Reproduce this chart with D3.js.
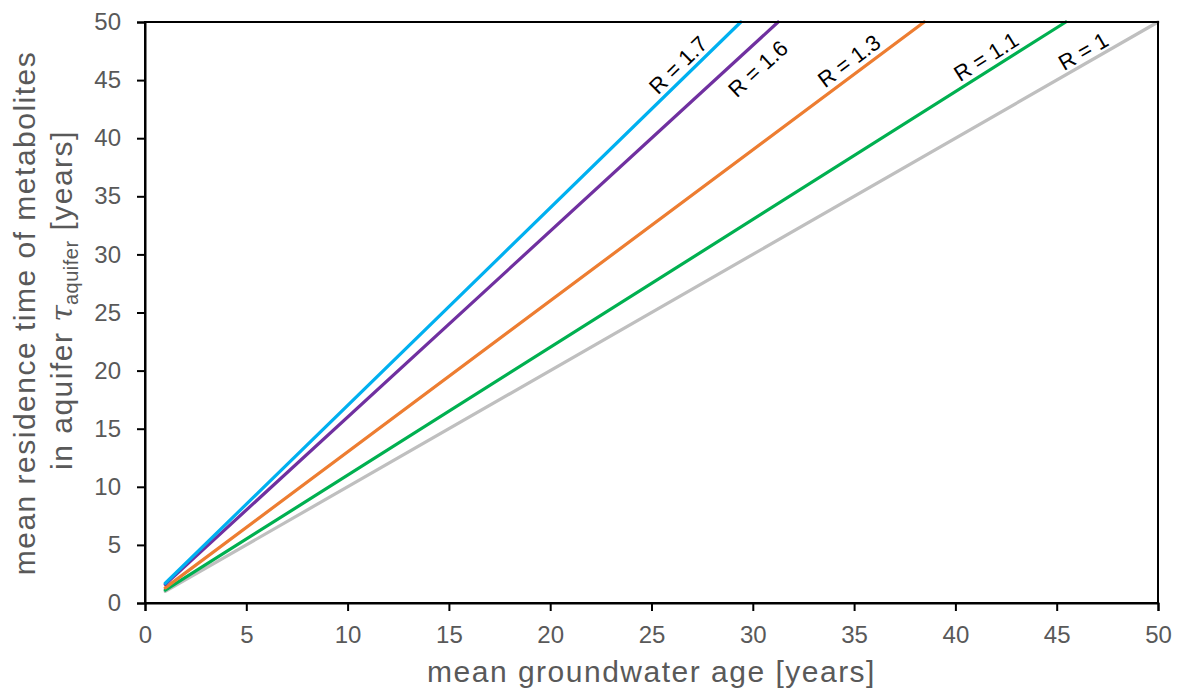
<!DOCTYPE html>
<html>
<head>
<meta charset="utf-8">
<script src="https://cdn.jsdelivr.net/npm/d3@7"></script>
<style>
  html, body { margin: 0; padding: 0; background: #fff; }
  svg { display: block; font-family: "Liberation Sans", Arial, sans-serif; }
</style>
</head>
<body>
<svg id="chart" width="1181" height="696"></svg>
<script>
// Retardation factors and the straight lines they produce (tau = R * age)
const retardation = [1, 1.1, 1.3, 1.6, 1.7];
const seriesLabels = ["R = 1", "R = 1.1", "R = 1.3", "R = 1.6", "R = 1.7"];
const ageStart = [1, 1, 1, 1, 1];
const tauStart = [1, 1.1, 1.3, 1.6, 1.7];
const ageEnd = [50, 45.45, 38.46, 31.25, 29.41];
const tauEnd = [50, 50, 50, 50, 50];
const xTicks = [0, 5, 10, 15, 20, 25, 30, 35, 40, 45, 50];
const yTicks = [0, 5, 10, 15, 20, 25, 30, 35, 40, 45, 50];

const colors = ["#BFBFBF", "#00B050", "#ED7D31", "#7030A0", "#00B0F0"];
// where each rotated label sits: height along its line, and signed
// perpendicular distance (positive = above/left of the line)
const labelTau = [46.6, 46.05, 45.7, 47.3, 45.5];
const labelOffset = [12, 13.5, 14, -20.5, 13.3];

const svg = d3.select("#chart");
const margin = { left: 145, right: 1158, top: 22, bottom: 603 };

const x = d3.scaleLinear().domain([0, 50]).range([margin.left, margin.right]);
const y = d3.scaleLinear().domain([0, 50]).range([margin.bottom, margin.top]);

const tickColor = "#595959";

// Lines
const line = d3.line().x(d => x(d[0])).y(d => y(d[1]));
retardation.forEach((r, i) => {
  const pts = [[ageStart[i], tauStart[i]], [ageEnd[i], tauEnd[i]]];
  svg.append("path")
    .attr("d", line(pts))
    .attr("fill", "none")
    .attr("stroke", colors[i])
    .attr("stroke-width", 3.2)
    .attr("stroke-linecap", "round");
});

// Rotated labels beside each line
retardation.forEach((r, i) => {
  const t = labelTau[i];
  const a = t / r;
  const px = x(a), py = y(t);
  const slope = (y(0) - y(r)) / (x(1) - x(0));
  const ang = Math.atan(slope);
  const off = labelOffset[i];
  const cx = px - off * Math.sin(ang);
  const cy = py - off * Math.cos(ang);
  svg.append("text")
    .attr("transform", `translate(${cx},${cy}) rotate(${-ang * 180 / Math.PI})`)
    .attr("text-anchor", "middle")
    .attr("dy", "0.36em")
    .attr("font-size", 22)
    .attr("fill", "#000")
    .text(seriesLabels[i]);
});

// Frame
svg.append("rect")
  .attr("x", margin.left).attr("y", margin.top)
  .attr("width", margin.right - margin.left)
  .attr("height", margin.bottom - margin.top)
  .attr("fill", "none").attr("stroke", "#000").attr("stroke-width", 2);

// Axes
const xAxis = d3.axisBottom(x).tickValues(xTicks).tickSize(8).tickPadding(15);
const yAxis = d3.axisLeft(y).tickValues(yTicks).tickSize(8).tickPadding(16);

const gx = svg.append("g").attr("transform", `translate(0,${margin.bottom})`).call(xAxis);
const gy = svg.append("g").attr("transform", `translate(${margin.left},0)`).call(yAxis);

[gx, gy].forEach(g => {
  g.select(".domain").attr("stroke", "#000").attr("stroke-width", 2);
  g.selectAll(".tick line").attr("stroke", "#000").attr("stroke-width", 2);
  g.selectAll(".tick text")
    .attr("fill", tickColor)
    .attr("font-size", 24)
    .attr("font-family", "Liberation Sans, Arial, sans-serif");
});

// Axis titles
svg.append("text")
  .attr("x", (margin.left + margin.right) / 2)
  .attr("y", 682)
  .attr("text-anchor", "middle")
  .attr("font-size", 30)
  .attr("letter-spacing", 1.5)
  .attr("fill", tickColor)
  .text("mean groundwater age [years]");

svg.append("text")
  .attr("transform", `translate(35,313) rotate(-90)`)
  .attr("text-anchor", "middle")
  .attr("font-size", 30)
  .attr("letter-spacing", 1.5)
  .attr("fill", tickColor)
  .text("mean residence time of metabolites");

const t2 = svg.append("text")
  .attr("transform", `translate(72,300) rotate(-90)`)
  .attr("text-anchor", "middle")
  .attr("font-size", 30)
  .attr("letter-spacing", 1.5)
  .attr("fill", tickColor);
t2.append("tspan").text("in aquifer ");
t2.append("tspan").attr("font-style", "italic").attr("font-family", "DejaVu Serif, serif").attr("letter-spacing", 0).text("τ");
t2.append("tspan").attr("font-size", 20).attr("letter-spacing", 0.5).attr("dy", 6).text("aquifer");
t2.append("tspan").attr("dy", -6).text(" [years]");
</script>
</body>
</html>
